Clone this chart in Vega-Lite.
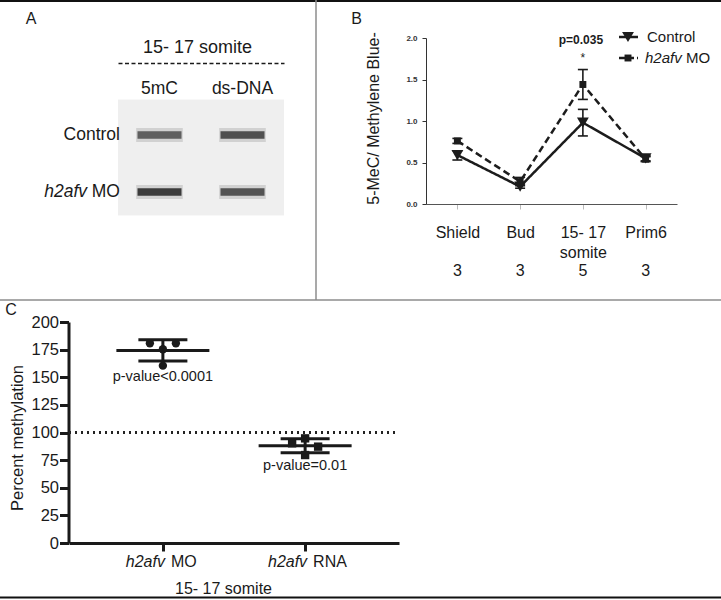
{
  "$schema": "https://vega.github.io/schema/vega-lite/v6.json",
  "width": 721,
  "height": 600,
  "autosize": {"type": "none"},
  "padding": 0,
  "background": "white",
  "config": {"font": "Liberation Sans", "view": {"stroke": null}},
  "datasets": {
    "gel": [
      {"lane": "5mC", "sample": "Control", "intensity": 0.72},
      {"lane": "ds-DNA", "sample": "Control", "intensity": 0.82},
      {"lane": "5mC", "sample": "h2afv MO", "intensity": 0.95},
      {"lane": "ds-DNA", "sample": "h2afv MO", "intensity": 0.8}
    ],
    "samples": [
      {"sample": "Control", "ital": "", "plain": "Control"},
      {"sample": "h2afv MO", "ital": "h2afv", "plain": "MO"}
    ],
    "methyl": [
      {"stage": "Shield", "group": "Control", "mean": 0.59, "lo": 0.53, "hi": 0.64},
      {"stage": "Bud", "group": "Control", "mean": 0.21, "lo": 0.19, "hi": 0.24},
      {"stage": "15- 17 somite", "group": "Control", "mean": 0.98, "lo": 0.82, "hi": 1.14},
      {"stage": "Prim6", "group": "Control", "mean": 0.55, "lo": 0.52, "hi": 0.58},
      {"stage": "Shield", "group": "h2afv MO", "mean": 0.76, "lo": 0.73, "hi": 0.79},
      {"stage": "Bud", "group": "h2afv MO", "mean": 0.27, "lo": 0.22, "hi": 0.32},
      {"stage": "15- 17 somite", "group": "h2afv MO", "mean": 1.44, "lo": 1.26, "hi": 1.62},
      {"stage": "Prim6", "group": "h2afv MO", "mean": 0.54, "lo": 0.51, "hi": 0.57}
    ],
    "stages": [
      {"stage": "Shield", "n": 3},
      {"stage": "Bud", "n": 3},
      {"stage": "15- 17 somite", "n": 5},
      {"stage": "Prim6", "n": 3}
    ],
    "legendB": [
      {"group": "Control", "ital": "", "plain": "Control"},
      {"group": "h2afv MO", "ital": "h2afv", "plain": "MO"}
    ],
    "pct": [
      {"group": "h2afv MO", "value": 180.7, "col": -1},
      {"group": "h2afv MO", "value": 175.3, "col": 0},
      {"group": "h2afv MO", "value": 180.7, "col": 1},
      {"group": "h2afv MO", "value": 160.5, "col": 0},
      {"group": "h2afv RNA", "value": 90.2, "col": -1},
      {"group": "h2afv RNA", "value": 94.7, "col": 0},
      {"group": "h2afv RNA", "value": 87.2, "col": 1},
      {"group": "h2afv RNA", "value": 79.6, "col": 0}
    ],
    "pvals": [
      {"group": "h2afv MO", "p": "p-value<0.0001"},
      {"group": "h2afv RNA", "p": "p-value=0.01"}
    ],
    "cats": [
      {"group": "h2afv MO", "ital": "h2afv", "plain": "MO"},
      {"group": "h2afv RNA", "ital": "h2afv", "plain": "RNA"}
    ]
  },
  "layer": [
    {
      "data": {"values": [{"panel": "A"}]},
      "layer": [
        {"mark": {"type": "rule", "color": "#111111", "strokeWidth": 2}, "encoding": {"x": {"value": 0}, "x2": {"value": 721}, "y": {"value": 1}}},
        {"mark": {"type": "rule", "color": "#8c8c8c", "strokeWidth": 1.5}, "encoding": {"x": {"value": 316}, "y": {"value": 0}, "y2": {"value": 300}}},
        {"mark": {"type": "rule", "color": "#8c8c8c", "strokeWidth": 1.5}, "encoding": {"x": {"value": 0}, "x2": {"value": 721}, "y": {"value": 300}}},
        {"mark": {"type": "rule", "color": "#111111", "strokeWidth": 2}, "encoding": {"x": {"value": 0}, "x2": {"value": 721}, "y": {"value": 597.5}}},
        {"mark": {"type": "text", "text": "A", "fontSize": 16, "color": "#1a1a1a", "align": "center", "baseline": "middle"}, "encoding": {"x": {"value": 31}, "y": {"value": 19}}},
        {"mark": {"type": "text", "text": "B", "fontSize": 16, "color": "#1a1a1a", "align": "center", "baseline": "middle"}, "encoding": {"x": {"value": 356.5}, "y": {"value": 19}}},
        {"mark": {"type": "text", "text": "C", "fontSize": 16, "color": "#1a1a1a", "align": "center", "baseline": "middle"}, "encoding": {"x": {"value": 11}, "y": {"value": 310}}}
      ]
    },
    {
      "data": {"name": "gel"},
      "mark": {"type": "point", "filled": true, "shape": "M-1,-1.39 L1,-1.39 L1,1.39 L-1,1.39 Z", "size": 6889, "color": "#efefef", "opacity": 1},
      "encoding": {
        "x": {
          "field": "lane", "type": "nominal",
          "scale": {"type": "band", "domain": ["5mC", "ds-DNA"], "range": [118, 284], "paddingInner": 0, "paddingOuter": 0},
          "axis": {
            "orient": "bottom", "offset": -537, "title": "15- 17 somite",
            "titleX": 197, "titleY": -16, "titleAlign": "center", "titleBaseline": "middle",
            "titleFontSize": 18, "titleFontWeight": "normal", "titleColor": "#1a1a1a",
            "labelFontSize": 17.5, "labelColor": "#1a1a1a", "labelAngle": 0, "labelBaseline": "middle", "labelPadding": 25,
            "ticks": false, "tickSize": 0, "domainDash": [4, 2.5], "domainColor": "#1a1a1a", "domainWidth": 1.5
          }
        },
        "y": {"value": 157.5}
      }
    },
    {
      "data": {"name": "gel"},
      "layer": [
        {
          "mark": {"type": "point", "filled": true, "shape": "M-1.06,-0.32 L1.06,-0.32 L1.06,0.32 L-1.06,0.32 Z", "size": 1936, "color": "#8a8a8a", "opacity": 0.3},
          "encoding": {
            "x": {"field": "lane", "type": "nominal", "scale": {"type": "band", "domain": ["5mC", "ds-DNA"], "range": [118, 284], "paddingInner": 0, "paddingOuter": 0}, "axis": null},
            "y": {"field": "sample", "type": "nominal", "scale": {"type": "band", "domain": ["Control", "h2afv MO"], "range": [106.5, 220.5], "paddingInner": 0, "paddingOuter": 0}, "axis": null}
          }
        },
        {
          "mark": {"type": "point", "filled": true, "shape": "M-1,-0.17 L1,-0.17 L1,0.17 L-1,0.17 Z", "size": 1936, "color": "#333333"},
          "encoding": {
            "x": {"field": "lane", "type": "nominal", "axis": null},
            "y": {"field": "sample", "type": "nominal", "axis": null},
            "opacity": {"field": "intensity", "type": "quantitative", "scale": {"domain": [0, 1], "range": [0, 1]}, "legend": null}
          }
        },
        {
          "data": {"name": "samples"},
          "mark": {"type": "text", "align": "right", "baseline": "middle", "fontSize": 17.5, "color": "#1a1a1a"},
          "encoding": {"x": {"value": 120}, "y": {"field": "sample", "type": "nominal", "axis": null}, "text": {"field": "plain"}}
        },
        {
          "data": {"name": "samples"},
          "mark": {"type": "text", "align": "right", "baseline": "middle", "fontSize": 17.5, "fontStyle": "italic", "color": "#1a1a1a"},
          "encoding": {"x": {"value": 87}, "y": {"field": "sample", "type": "nominal", "axis": null}, "text": {"field": "ital"}}
        }
      ]
    },
    {
      "data": {"name": "methyl"},
      "mark": {"type": "line", "strokeWidth": 2.5, "color": "#1c1c1c"},
      "encoding": {
        "x": {
          "field": "stage", "type": "ordinal",
          "scale": {"type": "point", "domain": ["Shield", "Bud", "15- 17 somite", "Prim6"], "range": [426, 677], "padding": 0.5},
          "axis": {
            "orient": "bottom", "offset": -396, "title": null, "labelAngle": 0, "labelOverlap": false,
            "labelExpr": "datum.value == '15- 17 somite' ? ['15- 17', 'somite'] : datum.value",
            "labelFontSize": 16, "labelColor": "#1a1a1a", "labelLineHeight": 20, "labelBaseline": "top", "labelPadding": 15,
            "tickSize": 5, "tickColor": "#bbbbbb", "domainColor": "#555555", "domainWidth": 1
          }
        },
        "y": {
          "field": "mean", "type": "quantitative",
          "scale": {"domain": [0, 2], "range": [204, 38]},
          "axis": {
            "orient": "left", "offset": -426, "values": [0, 0.5, 1, 1.5, 2], "format": ".1f", "grid": false,
            "labelFontSize": 8, "labelFontWeight": "bold", "labelColor": "#333333", "labelPadding": 5,
            "tickSize": 4, "tickColor": "#333333", "domainColor": "#333333",
            "title": "5-MeC/ Methylene Blue-", "titleX": -53, "titleY": 118, "titleAngle": 270,
            "titleAlign": "center", "titleBaseline": "middle", "titleFontSize": 16, "titleFontWeight": "normal", "titleColor": "#1a1a1a"
          }
        },
        "strokeDash": {"field": "group", "type": "nominal", "scale": {"domain": ["Control", "h2afv MO"], "range": [[1, 0], [7, 4]]}, "legend": null},
        "order": {"value": null}
      }
    },
    {
      "data": {"name": "methyl"},
      "layer": [
        {
          "mark": {"type": "errorbar", "ticks": {"color": "#1c1c1c", "opacity": 1}, "rule": {"opacity": 1}, "size": 10, "thickness": 1.6, "color": "#1c1c1c"},
          "encoding": {
            "x": {"field": "stage", "type": "ordinal", "scale": {"type": "point", "domain": ["Shield", "Bud", "15- 17 somite", "Prim6"], "range": [426, 677], "padding": 0.5}, "axis": null},
            "y": {"field": "lo", "type": "quantitative", "scale": {"domain": [0, 2], "range": [204, 38]}, "axis": null},
            "y2": {"field": "hi"}
          }
        },
        {
          "mark": {"type": "point", "filled": true, "opacity": 1, "color": "#1c1c1c"},
          "encoding": {
            "x": {"field": "stage", "type": "ordinal", "axis": null},
            "y": {"field": "mean", "type": "quantitative", "axis": null},
            "shape": {"field": "group", "type": "nominal", "scale": {"domain": ["Control", "h2afv MO"], "range": ["triangle-down", "square"]}, "legend": null},
            "size": {"field": "group", "type": "ordinal", "scale": {"domain": ["Control", "h2afv MO"], "range": [140, 48]}, "legend": null}
          }
        },
        {
          "data": {"values": [{"stage": "15- 17 somite", "p": "p=0.035", "star": "*"}]},
          "mark": {"type": "text", "fontSize": 12, "fontWeight": "bold", "color": "#1c1c1c", "baseline": "middle", "dx": -2},
          "encoding": {"x": {"field": "stage", "type": "ordinal", "axis": null}, "y": {"datum": 1.98, "axis": null}, "text": {"field": "p"}}
        },
        {
          "data": {"values": [{"stage": "15- 17 somite", "p": "p=0.035", "star": "*"}]},
          "mark": {"type": "text", "fontSize": 12, "color": "#1c1c1c", "baseline": "middle"},
          "encoding": {"x": {"field": "stage", "type": "ordinal", "axis": null}, "y": {"datum": 1.76, "axis": null}, "text": {"field": "star"}}
        },
        {
          "data": {"name": "stages"},
          "mark": {"type": "text", "fontSize": 16, "color": "#1a1a1a", "baseline": "middle"},
          "encoding": {"x": {"field": "stage", "type": "ordinal", "axis": null}, "y": {"datum": -0.81, "axis": null}, "text": {"field": "n"}}
        }
      ]
    },
    {
      "data": {"name": "legendB"},
      "layer": [
        {
          "mark": {"type": "rule", "strokeWidth": 2.5, "color": "#1c1c1c"},
          "encoding": {
            "x": {"value": 619}, "x2": {"value": 638},
            "y": {"field": "group", "type": "nominal", "scale": {"type": "point", "domain": ["Control", "h2afv MO"], "range": [37, 58], "padding": 0}, "axis": null},
            "strokeDash": {"field": "group", "type": "nominal", "scale": {"domain": ["Control", "h2afv MO"], "range": [[1, 0], [6, 3]]}, "legend": null}
          }
        },
        {
          "mark": {"type": "point", "filled": true, "opacity": 1, "color": "#1c1c1c"},
          "encoding": {
            "x": {"value": 628},
            "y": {"field": "group", "type": "nominal", "axis": null},
            "shape": {"field": "group", "type": "nominal", "scale": {"domain": ["Control", "h2afv MO"], "range": ["triangle-down", "square"]}, "legend": null},
            "size": {"field": "group", "type": "ordinal", "scale": {"domain": ["Control", "h2afv MO"], "range": [140, 48]}, "legend": null}
          }
        },
        {
          "mark": {"type": "text", "align": "left", "baseline": "middle", "fontSize": 15, "fontStyle": "italic", "color": "#1a1a1a"},
          "encoding": {"x": {"value": 645}, "y": {"field": "group", "type": "nominal", "axis": null}, "text": {"field": "ital"}}
        },
        {
          "transform": [{"filter": "datum.group == 'Control'"}],
          "mark": {"type": "text", "align": "left", "baseline": "middle", "fontSize": 15, "color": "#1a1a1a"},
          "encoding": {"x": {"value": 647}, "y": {"field": "group", "type": "nominal", "axis": null}, "text": {"field": "plain"}}
        },
        {
          "transform": [{"filter": "datum.group != 'Control'"}],
          "mark": {"type": "text", "align": "left", "baseline": "middle", "fontSize": 15, "color": "#1a1a1a"},
          "encoding": {"x": {"value": 686}, "y": {"field": "group", "type": "nominal", "axis": null}, "text": {"field": "plain"}}
        }
      ]
    },
    {
      "data": {"name": "pct"},
      "mark": {"type": "rule", "strokeDash": [2, 4], "strokeWidth": 2, "color": "#222222"},
      "encoding": {
        "x": {"value": 69}, "x2": {"value": 399},
        "y": {"datum": 100, "type": "quantitative", "scale": {"domain": [0, 200], "range": [543, 322]}, "axis": null}
      }
    },
    {
      "data": {"name": "pct"},
      "mark": {"type": "tick", "size": 93, "thickness": 3, "color": "#1a1a1a", "opacity": 1},
      "encoding": {
        "x": {
          "field": "group", "type": "nominal",
          "scale": {"type": "point", "domain": ["h2afv MO", "h2afv RNA"], "range": [69, 399], "padding": 0.66},
          "axis": {
            "orient": "bottom", "offset": -57, "labels": false,
            "tickSize": 8, "tickWidth": 3, "tickColor": "#1a1a1a", "domainWidth": 3, "domainColor": "#1a1a1a",
            "title": "15- 17 somite", "titleX": 223, "titleY": 45, "titleAlign": "center", "titleBaseline": "middle",
            "titleFontSize": 16, "titleFontWeight": "normal", "titleColor": "#1a1a1a"
          }
        },
        "y": {
          "aggregate": "mean", "field": "value", "type": "quantitative",
          "scale": {"domain": [0, 200], "range": [543, 322]},
          "axis": {
            "orient": "left", "offset": -68.5, "values": [0, 25, 50, 75, 100, 125, 150, 175, 200], "grid": false,
            "labelFontSize": 16.5, "labelColor": "#1a1a1a", "labelPadding": 1, "labelBaseline": "middle",
            "tickSize": 9, "tickWidth": 3, "tickColor": "#1a1a1a", "domainWidth": 3, "domainColor": "#1a1a1a",
            "title": "Percent methylation", "titleX": -51, "titleY": 437.5, "titleAngle": 270,
            "titleAlign": "center", "titleBaseline": "middle", "titleFontSize": 16.5, "titleFontWeight": "normal", "titleColor": "#1a1a1a"
          }
        }
      }
    },
    {
      "data": {"name": "pct"},
      "mark": {"type": "errorbar", "extent": "stdev", "ticks": {"color": "#1a1a1a", "opacity": 1}, "rule": {"opacity": 1}, "size": 49, "thickness": 3, "color": "#1a1a1a"},
      "encoding": {
        "x": {"field": "group", "type": "nominal", "scale": {"type": "point", "domain": ["h2afv MO", "h2afv RNA"], "range": [69, 399], "padding": 0.66}, "axis": null},
        "y": {"field": "value", "type": "quantitative", "scale": {"domain": [0, 200], "range": [543, 322]}, "axis": null}
      }
    },
    {
      "data": {"name": "pct"},
      "mark": {"type": "point", "filled": true, "opacity": 1, "color": "#1a1a1a", "size": 70},
      "encoding": {
        "x": {"field": "group", "type": "nominal", "scale": {"type": "point", "domain": ["h2afv MO", "h2afv RNA"], "range": [69, 399], "padding": 0.66}, "axis": null},
        "xOffset": {"field": "col", "type": "quantitative", "scale": {"domain": [-1, 1], "range": [-13, 13]}},
        "y": {"field": "value", "type": "quantitative", "scale": {"domain": [0, 200], "range": [543, 322]}, "axis": null},
        "shape": {"field": "group", "type": "nominal", "scale": {"domain": ["h2afv MO", "h2afv RNA"], "range": ["circle", "square"]}, "legend": null}
      }
    },
    {
      "data": {"name": "pct"},
      "transform": [
        {"aggregate": [{"op": "min", "field": "value", "as": "minv"}], "groupby": ["group"]},
        {"lookup": "group", "from": {"data": {"name": "pvals"}, "key": "group", "fields": ["p"]}}
      ],
      "mark": {"type": "text", "baseline": "top", "dy": 4, "fontSize": 14.5, "color": "#1a1a1a"},
      "encoding": {
        "x": {"field": "group", "type": "nominal", "scale": {"type": "point", "domain": ["h2afv MO", "h2afv RNA"], "range": [69, 399], "padding": 0.66}, "axis": null},
        "y": {"field": "minv", "type": "quantitative", "scale": {"domain": [0, 200], "range": [543, 322]}, "axis": null},
        "text": {"field": "p"}
      }
    },
    {
      "data": {"name": "cats"},
      "layer": [
        {
          "mark": {"type": "text", "align": "right", "baseline": "middle", "dx": 2, "fontSize": 16, "fontStyle": "italic", "color": "#1a1a1a"},
          "encoding": {
            "x": {"field": "group", "type": "nominal", "scale": {"type": "point", "domain": ["h2afv MO", "h2afv RNA"], "range": [69, 399], "padding": 0.66}, "axis": null},
            "y": {"datum": -17, "scale": {"domain": [0, 200], "range": [543, 322]}, "axis": null},
            "text": {"field": "ital"}
          }
        },
        {
          "mark": {"type": "text", "align": "left", "baseline": "middle", "dx": 8, "fontSize": 16, "color": "#1a1a1a"},
          "encoding": {
            "x": {"field": "group", "type": "nominal", "axis": null},
            "y": {"datum": -17, "axis": null},
            "text": {"field": "plain"}
          }
        }
      ]
    }
  ],
  "resolve": {
    "scale": {"x": "independent", "y": "independent", "shape": "independent", "size": "independent", "strokeDash": "independent", "opacity": "independent"}
  }
}
